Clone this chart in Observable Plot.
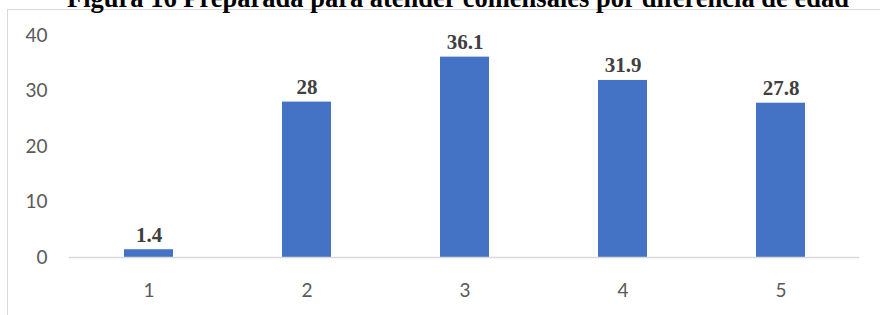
<!DOCTYPE html>
<html>
<head>
<meta charset="utf-8">
<script src="https://cdn.jsdelivr.net/npm/d3@7"></script>
<script src="https://cdn.jsdelivr.net/npm/@observablehq/plot@0.6"></script>
<style>
  html, body { margin: 0; padding: 0; background: #fff; }
  #wrap { position: relative; width: 880px; height: 315px; overflow: hidden; background: #fff; }
  #frame { position: absolute; left: 7px; top: 9px; width: 1000px; height: 1000px;
           border-left: 1.5px solid #d9d9d9; border-top: 1.5px solid #d9d9d9; }
  #chart { position: absolute; left: 0; top: 0; }
  #title { position: absolute; left: 0; top: 0; }
</style>
</head>
<body>
<div id="wrap">
  <div id="frame"></div>
  <div id="chart"></div>
  <svg id="title" width="880" height="20">
    <text x="67" y="7" font-family="'Liberation Serif', 'Times New Roman', serif" font-weight="bold" font-size="26.5" fill="#000">Figura 16 Preparada para atender comensales por diferencia de edad</text>
  </svg>
</div>
<script>
const categories = ["1", "2", "3", "4", "5"];
const values = [1.4, 28, 36.1, 31.9, 27.8];
const labels = ["1.4", "28", "36.1", "31.9", "27.8"];
const yTicks = [0, 10, 20, 30, 40];

const data = categories.map((c, i) => ({cat: c, value: values[i], label: labels[i]}));

const chart = Plot.plot({
  width: 880,
  height: 315,
  marginLeft: 69,
  marginRight: 21,
  marginTop: 35,
  marginBottom: 58,
  style: {fontFamily: "Lato, 'Open Sans', sans-serif", fontSize: "19px", color: "#595959", background: "transparent", overflow: "visible"},
  x: {domain: categories, paddingInner: 0.69, paddingOuter: 0.345, label: null, tickSize: 0, tickPadding: 26},
  y: {domain: [0, 40], ticks: yTicks, label: null, tickSize: 0, tickPadding: 22},
  marks: [
    Plot.barY(data, {x: "cat", y: "value", fill: "#4472C4"}),
    Plot.ruleY([0], {stroke: "#d9d9d9", strokeWidth: 1.5}),
    Plot.text(data, {x: "cat", y: "value", text: "label", dy: -8, lineAnchor: "bottom",
      fontFamily: "'Liberation Serif', 'Times New Roman', serif", fontWeight: "bold", fontSize: 21, fill: "#404040"})
  ]
});
document.getElementById("chart").appendChild(chart);
</script>
</body>
</html>
